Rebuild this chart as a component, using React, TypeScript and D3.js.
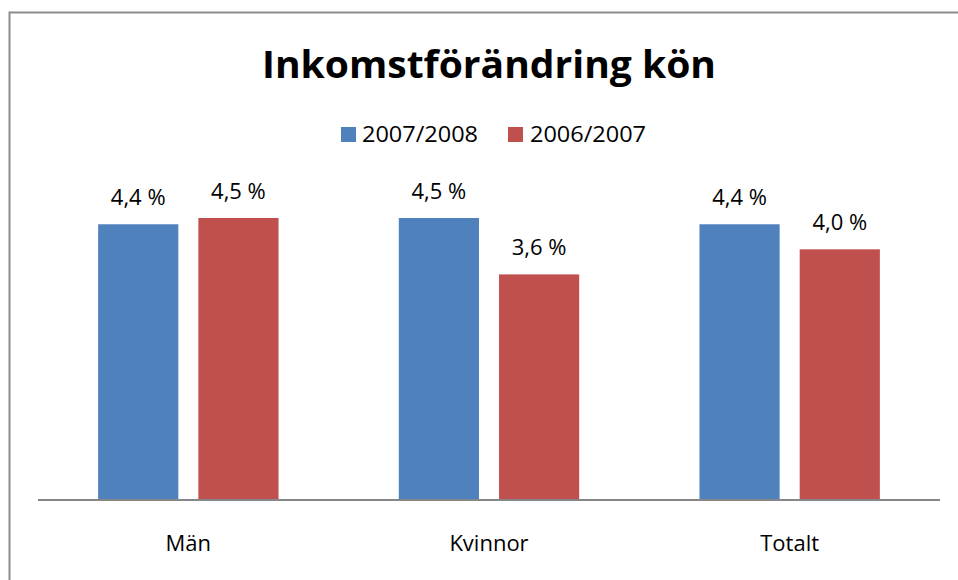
import React from 'react';
import * as d3 from 'd3';

const categories = ['Män', 'Kvinnor', 'Totalt'];
const seriesNames = ['2007/2008', '2006/2007'];
const values2007_2008 = [4.4, 4.5, 4.4];
const values2006_2007 = [4.5, 3.6, 4.0];
const colors = ['#4F81BD', '#C0504D'];

const width = 958;
const height = 580;
const plotLeft = 38;
const plotRight = 940;
const baseline = 500;
const font = "'Open Sans', Lato, sans-serif";

export default function App() {
  const series = [values2007_2008, values2006_2007];

  const x = d3.scaleBand().domain(categories).range([plotLeft, plotRight]).paddingInner(0.4).paddingOuter(0.2);
  const x1 = d3.scaleBand().domain(seriesNames).range([0, x.bandwidth()]).paddingInner(0.2);
  const y = d3.scaleLinear().domain([0, 4.5]).range([baseline, 218]);

  const fmt = (v: number) => v.toFixed(1).replace('.', ',') + ' %';

  return (
    <div style={{ position: 'absolute', left: 0, top: 0 }}>
      <svg width={width} height={height} style={{ display: 'block' }}>
        <rect x={0} y={0} width={width} height={height} fill="#fff" />
        {/* outer border, right and bottom cut off */}
        <path d={`M9.5,${height} V12.5 H${width}`} fill="none" stroke="#8c8c8c" strokeWidth={2} />

        <text x={489} y={78} textAnchor="middle" fontFamily={font} fontWeight="bold" fontSize={38}
          textLength={454} lengthAdjust="spacingAndGlyphs">
          Inkomstförändring kön
        </text>

        {/* legend */}
        <g fontFamily={font} fontSize={21}>
          <rect x={341} y={127} width={15} height={15} fill={colors[0]} />
          <text x={362} y={142} textLength={116} lengthAdjust="spacingAndGlyphs">{seriesNames[0]}</text>
          <rect x={508} y={127} width={15} height={15} fill={colors[1]} />
          <text x={530} y={142} textLength={116} lengthAdjust="spacingAndGlyphs">{seriesNames[1]}</text>
        </g>

        {categories.map((c, i) => (
          <g key={c} transform={`translate(${x(c)},0)`}>
            {series.map((vals, s) => {
              const bx = x1(seriesNames[s])!;
              const by = y(vals[i]);
              return (
                <g key={s}>
                  <rect x={bx} y={by} width={x1.bandwidth()} height={baseline - by} fill={colors[s]} />
                  <text x={bx + x1.bandwidth() / 2} y={by - 19} textAnchor="middle"
                    fontFamily={font} fontSize={22}>{fmt(vals[i])}</text>
                </g>
              );
            })}
            <text x={x.bandwidth() / 2} y={551} textAnchor="middle" fontFamily={font} fontSize={22}>{c}</text>
          </g>
        ))}

        <line x1={plotLeft} x2={plotRight} y1={baseline} y2={baseline} stroke="#868686" strokeWidth={2} />
      </svg>
    </div>
  );
}
